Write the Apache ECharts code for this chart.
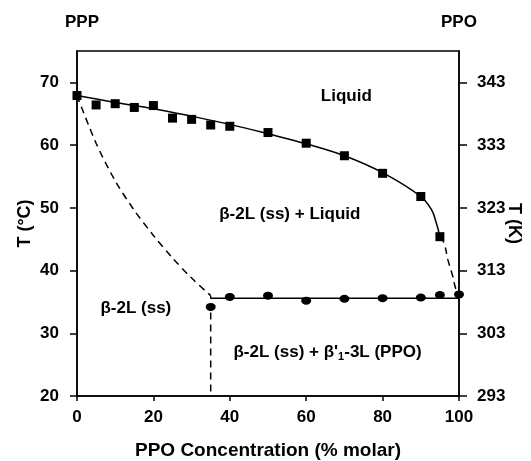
<!DOCTYPE html>
<html>
<head>
<meta charset="utf-8">
<script src="https://cdn.jsdelivr.net/npm/echarts@6/dist/echarts.min.js"></script>
<style>
  html, body { margin: 0; padding: 0; background: #fff; }
  #chart { width: 531px; height: 461px; }
</style>
</head>
<body>
<div id="chart"></div>
<script>
  // liquidus measurements (squares)
  var liqX = [0, 5, 10, 15, 20, 25, 30, 35, 40, 50, 60, 70, 80, 90, 95];
  var liqT = [67.9, 66.4, 66.6, 66.0, 66.3, 64.3, 64.1, 63.2, 63.0, 62.0, 60.3, 58.3, 55.5, 51.8, 45.4];

  // solidus measurements (circles)
  var solX = [35, 40, 50, 60, 70, 80, 90, 95, 100];
  var solT = [34.2, 35.8, 36.0, 35.2, 35.5, 35.6, 35.7, 36.1, 36.2];

  // fitted liquidus curve
  var fitX = [0, 10, 20, 30, 40, 50, 60, 70, 80, 90, 92.8, 94.1, 95];
  var fitT = [67.9, 66.8, 65.8, 64.6, 63.3, 61.8, 60.2, 58.3, 55.6, 51.8, 49.7, 47.5, 45.4];

  // solidus line
  var solLineX = [35, 35, 100];
  var solLineT = [36.0, 35.6, 35.6];

  // dashed boundaries
  var dashLeftX = [0, 5, 10, 15, 20, 25, 30, 35];
  var dashLeftT = [67.9, 60.3, 54.3, 49.6, 45.6, 42.0, 38.8, 36.0];
  var dashVertX = [35, 35];
  var dashVertT = [33.3, 20];
  var dashRightX = [95, 96.1, 97.1, 98.4, 99.1, 100];
  var dashRightT = [45.4, 44.35, 41.7, 39.0, 37.2, 36.2];

  // axis ticks
  var xTicks = [0, 20, 40, 60, 80, 100];
  var cTicks = [20, 30, 40, 50, 60, 70];
  var kTicks = [293, 303, 313, 323, 333, 343];

  // region labels
  var regionNames = ['Liquid', 'β-2L (ss) + Liquid', 'β-2L (ss)', '{a|β-2L (ss) + β\'}{s|1}{a|-3L (PPO)}'];
  var regionX = [70.5, 55.7, 15.4, 65.6];
  var regionT = [67.8, 48.9, 34.0, 26.9];

  function pairs(xs, ys) {
    return xs.map(function (x, i) { return [x, ys[i]]; });
  }

  var font = 'Liberation Sans, Arial, sans-serif';
  var black = '#000';

  var chart = echarts.init(document.getElementById('chart'));

  chart.setOption({
    animation: false,
    textStyle: { fontFamily: font, color: black },
    title: [
      { text: 'PPP', left: 60, top: 9, textStyle: { fontFamily: font, fontSize: 17, fontWeight: 'bold', color: black } },
      { text: 'PPO', left: 436, top: 9, textStyle: { fontFamily: font, fontSize: 17, fontWeight: 'bold', color: black } }
    ],
    grid: {
      left: 77, right: 72, top: 51, bottom: 65,
      outerBoundsMode: 'none', containLabel: false,
      show: true, borderColor: black, borderWidth: 1.5, backgroundColor: 'transparent'
    },
    xAxis: {
      type: 'value', min: 0, max: 100, interval: 20,
      name: 'PPO Concentration (% molar)', nameLocation: 'middle', nameGap: 45, nameMoveOverlap: false,
      nameTextStyle: { fontFamily: font, fontSize: 19, fontWeight: 'bold', color: black },
      axisLine: { onZero: false, lineStyle: { color: black, width: 1.5 } },
      axisTick: { show: true, length: 5, lineStyle: { color: black, width: 1.5 }, customValues: xTicks },
      axisLabel: { margin: 13, fontFamily: font, fontSize: 17, fontWeight: 'bold', color: black, customValues: xTicks },
      splitLine: { show: false }
    },
    yAxis: [
      {
        type: 'value', min: 20, max: 75, interval: 10, position: 'left',
        name: 'T (°C)', nameLocation: 'middle', nameGap: 43, nameRotate: 90, nameMoveOverlap: false,
        nameTextStyle: { fontFamily: font, fontSize: 18, fontWeight: 'bold', color: black },
        axisLine: { show: true, onZero: false, lineStyle: { color: black, width: 1.5 } },
        axisTick: { show: true, length: 7, lineStyle: { color: black, width: 1.5 }, customValues: cTicks },
        axisLabel: { margin: 18, fontFamily: font, fontSize: 17, fontWeight: 'bold', color: black, customValues: cTicks },
        splitLine: { show: false }
      },
      {
        type: 'value', min: 293, max: 348, position: 'right',
        name: 'T (K)', nameLocation: 'middle', nameGap: 46, nameRotate: -90, nameMoveOverlap: false,
        nameTextStyle: { fontFamily: font, fontSize: 18, fontWeight: 'bold', color: black },
        axisLine: { show: true, onZero: false, lineStyle: { color: black, width: 1.5 } },
        axisTick: { show: true, length: 8, lineStyle: { color: black, width: 1.5 }, customValues: kTicks },
        axisLabel: { margin: 18, fontFamily: font, fontSize: 17, fontWeight: 'bold', color: black, customValues: kTicks },
        splitLine: { show: false }
      }
    ],
    series: [
      {
        name: 'fit', type: 'line', smooth: 0.4, showSymbol: false, silent: true,
        data: pairs(fitX, fitT),
        lineStyle: { color: black, width: 1.5 }
      },
      {
        name: 'solidus line', type: 'line', showSymbol: false, silent: true,
        data: pairs(solLineX, solLineT),
        lineStyle: { color: black, width: 1.5 }
      },
      {
        name: 'dash left', type: 'line', smooth: 0.3, showSymbol: false, silent: true,
        data: pairs(dashLeftX, dashLeftT),
        lineStyle: { color: black, width: 1.5, type: [7, 5] }
      },
      {
        name: 'dash vertical', type: 'line', showSymbol: false, silent: true,
        data: pairs(dashVertX, dashVertT),
        lineStyle: { color: black, width: 1.5, type: [7, 5] }
      },
      {
        name: 'dash right', type: 'line', smooth: 0.4, showSymbol: false, silent: true,
        data: pairs(dashRightX, dashRightT),
        lineStyle: { color: black, width: 1.5, type: [7, 5] }
      },
      {
        name: 'liquidus', type: 'scatter', symbol: 'rect', symbolSize: 9,
        data: pairs(liqX, liqT),
        itemStyle: { color: black, opacity: 1 }
      },
      {
        name: 'solidus', type: 'scatter', symbol: 'circle', symbolSize: [10, 8],
        data: pairs(solX, solT),
        itemStyle: { color: black, opacity: 1 }
      },
      {
        name: 'labels', type: 'scatter', symbolSize: 0, silent: true,
        itemStyle: { opacity: 1 },
        data: regionX.map(function (x, i) {
          return { value: [x, regionT[i]], name: regionNames[i] };
        }),
        label: {
          show: true, position: 'inside', formatter: '{b}',
          fontFamily: font, fontSize: 17, fontWeight: 'bold', color: black,
          rich: {
            a: { fontFamily: font, fontSize: 17, fontWeight: 'bold', color: black, lineHeight: 20 },
            s: { fontFamily: font, fontSize: 11, fontWeight: 'bold', color: black, lineHeight: 20, verticalAlign: 'bottom', padding: [10, 0, 0, 0] }
          }
        }
      }
    ]
  });
</script>
</body>
</html>
